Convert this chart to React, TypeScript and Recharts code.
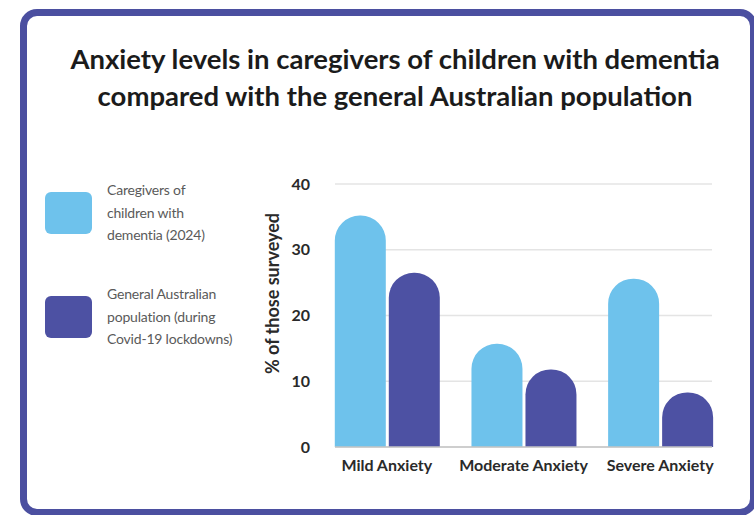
import React from 'react';
import { BarChart, Bar, XAxis, YAxis, CartesianGrid, Legend } from 'recharts';

// Survey categories and the share (%) of respondents in each
const categories = ['Mild Anxiety', 'Moderate Anxiety', 'Severe Anxiety'];
const caregiverValues = [35.2, 15.7, 25.6];
const generalValues = [26.5, 11.8, 8.3];
const yTicks = [0, 10, 20, 30, 40];

const seriesNames = [
  'Caregivers of\nchildren with\ndementia (2024)',
  'General Australian\npopulation (during\nCovid-19 lockdowns)',
];
const seriesColors = ['#6ec2ec', '#4d51a3'];

const titleLines = [
  'Anxiety levels in caregivers of children with dementia',
  'compared with the general Australian population',
];
const yAxisTitle = '% of those surveyed';

const data = categories.map((name, i) => ({
  name,
  caregivers: caregiverValues[i],
  general: generalValues[i],
}));

const FONT = 'Lato, "Open Sans", sans-serif';

const renderLegend = (props: any) => {
  const items = props.payload || [];
  return (
    <div>
      {items.map((entry: any, i: number) => (
        <div
          key={i}
          style={{
            display: 'flex',
            alignItems: 'center',
            height: 42,
            marginBottom: 62,
          }}
        >
          <div
            style={{
              width: 47,
              height: 42,
              borderRadius: 6,
              background: entry.color,
              flex: '0 0 auto',
            }}
          />
          <div
            style={{
              marginLeft: 15,
              whiteSpace: 'pre-line',
              fontFamily: FONT,
              fontSize: 14,
              lineHeight: '22.5px',
              color: '#5a5a5a',
              letterSpacing: -0.2,
            }}
          >
            {entry.value}
          </div>
        </div>
      ))}
    </div>
  );
};

const YTitle = (props: any) => {
  const vb = props.viewBox || { x: 0, y: 0, width: 0, height: 0 };
  const cx = vb.x - 3;
  const cy = vb.y + vb.height / 2 - 22;
  return (
    <text
      x={cx}
      y={cy}
      transform={`rotate(-90, ${cx}, ${cy})`}
      textAnchor="middle"
      dominantBaseline="central"
      fontFamily={FONT}
      fontWeight={700}
      fontSize={18}
      fill="#2a2a2a"
    >
      {yAxisTitle}
    </text>
  );
};

export default function App() {
  return (
    <div
      style={{
        position: 'fixed',
        left: 0,
        top: 0,
        width: 754,
        height: 515,
        background: '#ffffff',
        overflow: 'hidden',
      }}
    >
      <div
        style={{
          position: 'absolute',
          left: 20,
          top: 9,
          width: 737,
          height: 507,
          border: '7px solid #4b4fa0',
          borderRadius: 17,
          boxSizing: 'border-box',
        }}
      />
      <div
        style={{
          position: 'absolute',
          left: 25,
          top: 40,
          width: 740,
          textAlign: 'center',
          fontFamily: FONT,
          fontWeight: 700,
          fontSize: 27.5,
          lineHeight: '37px',
          color: '#1b1b1b',
        }}
      >
        {titleLines.map((t, i) => (
          <div key={i}>{t}</div>
        ))}
      </div>
      <div style={{ position: 'absolute', left: 0, top: 0 }}>
        <BarChart
          width={754}
          height={515}
          data={data}
          margin={{ top: 184, right: 42, bottom: 38, left: 275 }}
          barCategoryGap={16.3}
          barGap={3}
        >
          <CartesianGrid
            vertical={false}
            stroke="#e4e4e4"
            strokeWidth={1.5}
          />
          <XAxis
            dataKey="name"
            height={30}
            padding={{ left: -16.5, right: -16.5 }}
            tickLine={false}
            tickSize={0}
            tickMargin={13}
            axisLine={{ stroke: '#c4c4c4', strokeWidth: 1.5 }}
            tick={{ fontFamily: FONT, fontWeight: 700, fontSize: 16, fill: '#2a2a2a' }}
          />
          <YAxis
            width={60}
            domain={[0, 40]}
            ticks={yTicks}
            tickLine={false}
            axisLine={false}
            tickSize={0}
            tickMargin={25}
            tick={{ fontFamily: FONT, fontWeight: 700, fontSize: 16, fill: '#2a2a2a' }}
            label={<YTitle />}
          />
          <Legend
            layout="vertical"
            align="center"
            verticalAlign="middle"
            wrapperStyle={{ left: 45, top: 192, width: 220 }}
            content={renderLegend}
          />
          <Bar
            dataKey="caregivers"
            name={seriesNames[0]}
            fill={seriesColors[0]}
            radius={[25, 25, 0, 0]}
            isAnimationActive={false}
          />
          <Bar
            dataKey="general"
            name={seriesNames[1]}
            fill={seriesColors[1]}
            radius={[25, 25, 0, 0]}
            isAnimationActive={false}
          />
        </BarChart>
      </div>
    </div>
  );
}
